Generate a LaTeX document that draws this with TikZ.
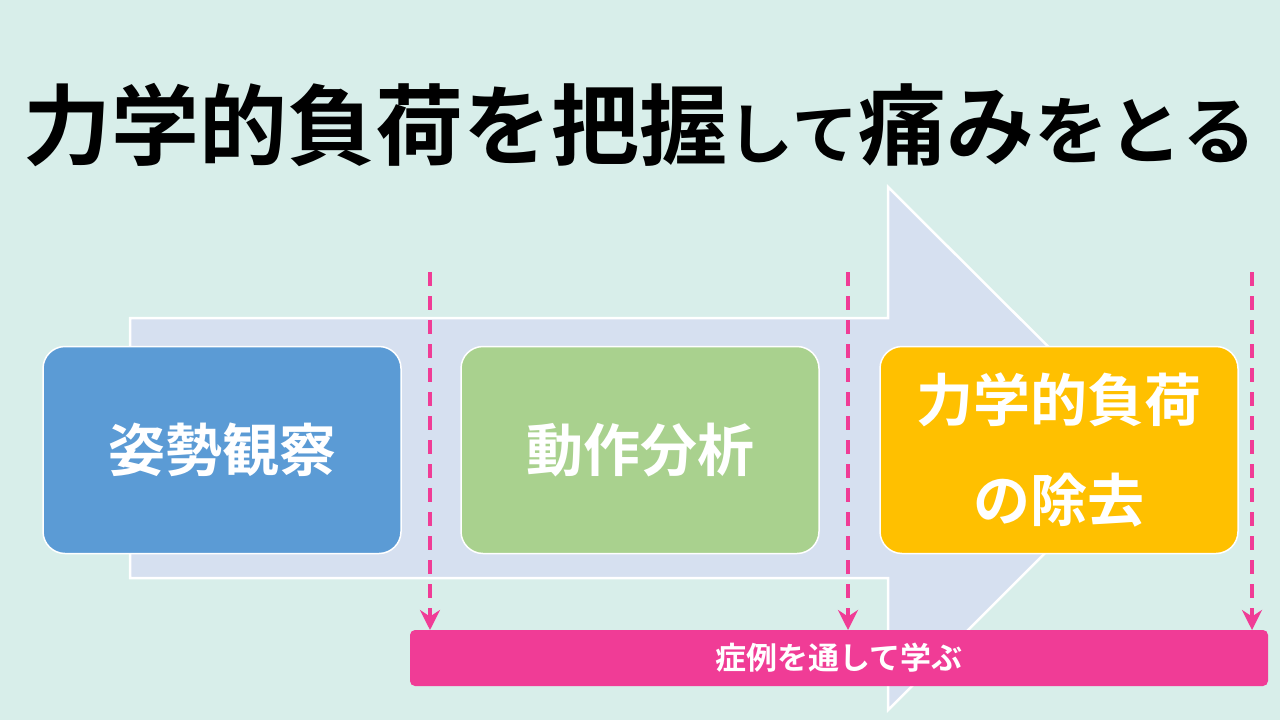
\documentclass[tikz,border=0pt]{standalone}
\usepackage{fontspec}
\newfontfamily\cjk{Noto Sans CJK JP}[BoldFont={* Bold}]
\usetikzlibrary{arrows.meta}
\definecolor{bgmint}{RGB}{216,238,234}
\definecolor{arrowfill}{RGB}{214,224,240}
\definecolor{boxblue}{RGB}{91,155,213}
\definecolor{boxgreen}{RGB}{169,209,142}
\definecolor{boxorange}{RGB}{255,192,0}
\definecolor{pinkline}{RGB}{240,60,150}
\tikzset{
  stagebox/.style={draw=white, line width=1.5pt, rounded corners=22pt, minimum width=358pt, minimum height=207pt, text=white, font=\cjk\bfseries\fontsize{57}{100}\selectfont, align=center},
  guide/.style={draw=pinkline, line width=4pt, dash pattern=on 14pt off 10pt, -{Stealth[length=20pt,width=20pt]}}
}
\begin{document}
\begin{tikzpicture}[x=1pt,y=-1pt]
\fill[bgmint] (0,0) rectangle (1280,720);
\useasboundingbox (0,0) rectangle (1280,720);
% title
\node (title) at (640,125) {\cjk\bfseries\fontsize{88}{90}\selectfont 力学的負荷を把握{\fontsize{66}{70}\selectfont して}痛み{\fontsize{74}{80}\selectfont をとる}};
% big arrow
\draw[white, line width=2.5pt, fill=arrowfill] (130,318) -- (888,318) -- (888,187) -- (1150,448) -- (888,710) -- (888,578) -- (130,578) -- cycle;
% stages
\node[stagebox, fill=boxblue] (posture) at (222,450) {姿勢観察};
\node[stagebox, fill=boxgreen] (motion) at (640,450) {動作分析};
\node[stagebox, fill=boxorange] (load) at (1059,450) {力学的負荷\\の除去};
% bottom bar
\node[fill=pinkline, rounded corners=5pt, minimum width=858pt, minimum height=56pt, text=white, font=\cjk\bfseries\fontsize{31}{32}\selectfont] (cases) at (839,658) {症例を通して学ぶ};
% dashed guides
\foreach \gx/\gn in {430/a,848/b,1252/c}{
  \coordinate (top\gn) at (\gx,272);
  \coordinate (bot\gn) at (\gx,630);
  \draw[guide] (top\gn) -- (bot\gn);
}
\end{tikzpicture}
\end{document}
